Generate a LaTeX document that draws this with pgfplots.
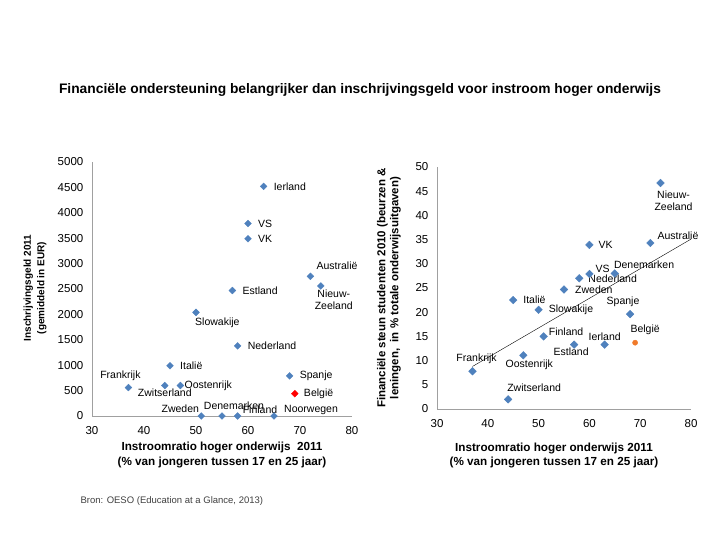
\documentclass[border=0pt]{standalone}
\usepackage{pgfplots}
\pgfplotsset{compat=1.18}
\usepackage{fontspec}
\setmainfont{Liberation Sans}
\definecolor{xblue}{HTML}{4F81BD}
\definecolor{xred}{HTML}{FF0000}
\definecolor{xorange}{HTML}{F07A2A}
\definecolor{axgray}{HTML}{A0A0A0}
\tikzset{lbl/.style={font=\fontsize{10.5}{12}\selectfont,inner sep=0pt}}
\pgfplotsset{
  common/.style={
    scale only axis,
    axis lines=left,
    axis line style={axgray,-},
    tick style={draw=none},
    xmin=30,xmax=80,xtick={30,40,...,80},
    /pgf/number format/assume math mode=true,
    /pgf/number format/set thousands separator={},
    ticklabel style={font=\fontsize{11.5}{12}\selectfont},
    xticklabel style={yshift=-5pt},
    yticklabel style={xshift=-3pt},
    clip=false,
  },
}
\begin{document}
\begin{tikzpicture}
\path[use as bounding box] (0,0) rectangle (720pt,-540pt);
\node[font=\bfseries\fontsize{13.8}{16}\selectfont] at (360pt,-90pt) {Financiële ondersteuning belangrijker dan inschrijvingsgeld voor instroom hoger onderwijs};
% ---------- left ----------
\begin{axis}[common,
  at={(92pt,-416pt)},anchor=south west,
  width=260pt,height=254pt,
  ymin=0,ymax=5000,ytick={0,500,...,5000},
]
\addplot[only marks,mark=square*,mark options={xblue,rotate=45},mark size=2.4pt] coordinates {
(63,4520) (60,3790) (60,3490) (72,2750) (74,2560) (57,2470) (50,2040)
(58,1380) (45,990) (68,790) (37,560) (44,600) (47,600)
(51,0) (55,0) (58,0) (65,0)
};
\addplot[only marks,mark=square*,mark options={xred,rotate=45},mark size=2.4pt] coordinates {(69,440)};
\node[lbl,anchor=west,xshift=10pt] at (axis cs:63,4520) {Ierland};
\node[lbl,anchor=west,xshift=10pt] at (axis cs:60,3790) {VS};
\node[lbl,anchor=west,xshift=10pt] at (axis cs:60,3490) {VK};
\node[lbl,anchor=west,xshift=6pt,yshift=11pt] at (axis cs:72,2750) {Australië};
\node[lbl,anchor=north,align=center,xshift=13pt,yshift=-4pt] at (axis cs:74,2560) {Nieuw-\\Zeeland};
\node[lbl,anchor=west,xshift=10pt] at (axis cs:57,2470) {Estland};
\node[lbl,anchor=north west,xshift=-1pt,yshift=-5pt] at (axis cs:50,2040) {Slowakije};
\node[lbl,anchor=west,xshift=10pt] at (axis cs:58,1380) {Nederland};
\node[lbl,anchor=west,xshift=10pt] at (axis cs:45,990) {Italië};
\node[lbl,anchor=west,xshift=10pt] at (axis cs:68,790) {Spanje};
\node[lbl,anchor=south,xshift=-8pt,yshift=7pt] at (axis cs:37,560) {Frankrijk};
\node[lbl,anchor=north,yshift=-3pt] at (axis cs:44,600) {Zwitserland};
\node[lbl,anchor=west,xshift=4pt] at (axis cs:47,600) {Oostenrijk};
\node[lbl,anchor=west,xshift=9pt] at (axis cs:69,440) {België};
\node[lbl,anchor=east,xshift=-2pt,yshift=7pt] at (axis cs:51,0) {Zweden};
\node[lbl,anchor=south,xshift=12pt,yshift=6pt] at (axis cs:55,0) {Denemarken};
\node[lbl,anchor=west,xshift=5pt,yshift=6pt] at (axis cs:58,0) {Finland};
\node[lbl,anchor=west,xshift=10pt,yshift=6pt] at (axis cs:65,0) {Noorwegen};
\end{axis}
\node[font=\bfseries\fontsize{11.7}{15}\selectfont,align=center] at (222pt,-455pt) {Instroomratio hoger onderwijs\ \ 2011\\(\% van jongeren tussen 17 en 25 jaar)};
\node[font=\bfseries\fontsize{10}{13.5}\selectfont,align=center,rotate=90] at (35pt,-288pt) {Inschrijvingsgeld 2011\\(gemiddeld in EUR)};
% ---------- right ----------
\begin{axis}[common,
  at={(437pt,-409pt)},anchor=south west,
  width=254pt,height=242pt,
  ymin=0,ymax=50,ytick={0,5,...,50},
]
\addplot[black,thin] coordinates {(37,8.8) (80,35.1)};
\addplot[only marks,mark=square*,mark options={xblue,rotate=45},mark size=2.7pt] coordinates {
(74,46.7) (72,34.3) (60,33.9) (65,28.0) (60,27.9) (58,27.0) (55,24.7)
(45,22.5) (50,20.5) (68,19.6) (51,15.0) (57,13.3) (63,13.3)
(47,11.1) (37,7.8) (44,2.0)
};
\addplot[only marks,mark=*,mark options={xorange},mark size=2.6pt] coordinates {(69,13.7)};
\node[lbl,anchor=north,align=center,xshift=13pt,yshift=-8pt] at (axis cs:74,46.7) {Nieuw-\\Zeeland};
\node[lbl,anchor=west,xshift=7pt,yshift=7pt] at (axis cs:72,34.3) {Australië};
\node[lbl,anchor=west,xshift=9pt] at (axis cs:60,33.9) {VK};
\node[lbl,anchor=south west,xshift=-1pt,yshift=5pt] at (axis cs:65,28.0) {Denemarken};
\node[lbl,anchor=west,xshift=6pt,yshift=5pt] at (axis cs:60,27.9) {VS};
\node[lbl,anchor=west,xshift=9pt] at (axis cs:58,27.0) {Nederland};
\node[lbl,anchor=west,xshift=11pt] at (axis cs:55,24.7) {Zweden};
\node[lbl,anchor=west,xshift=10pt] at (axis cs:45,22.5) {Italië};
\node[lbl,anchor=west,xshift=10pt] at (axis cs:50,20.5) {Slowakije};
\node[lbl,anchor=south,xshift=-7pt,yshift=7pt] at (axis cs:68,19.6) {Spanje};
\node[lbl,anchor=west,xshift=5pt,yshift=5pt] at (axis cs:51,15.0) {Finland};
\node[lbl,anchor=south,xshift=10pt,yshift=8pt] at (axis cs:69,13.7) {België};
\node[lbl,anchor=north,xshift=-3pt,yshift=-3pt] at (axis cs:57,13.3) {Estland};
\node[lbl,anchor=south,yshift=4pt] at (axis cs:63,13.3) {Ierland};
\node[lbl,anchor=north,xshift=6pt,yshift=-4pt] at (axis cs:47,11.1) {Oostenrijk};
\node[lbl,anchor=south,xshift=4pt,yshift=7pt] at (axis cs:37,7.8) {Frankrijk};
\node[lbl,anchor=south west,xshift=-1pt,yshift=8pt] at (axis cs:44,2.0) {Zwitserland};
\end{axis}
\node[font=\bfseries\fontsize{11.7}{14}\selectfont,align=center] at (554pt,-455pt) {Instroomratio hoger onderwijs 2011\\(\% van jongeren tussen 17 en 25 jaar)};
\node[font=\bfseries\fontsize{11.5}{13}\selectfont,align=center,rotate=90] at (389pt,-288pt) {Financiële steun studenten 2010 (beurzen \&\\leningen,\ \ in \% totale onderwijsuitgaven)};
% source
\node[anchor=west,font=\fontsize{9.5}{11}\selectfont,text=black!75] at (77pt,-501pt) {Bron: OESO (Education at a Glance, 2013)};
\end{tikzpicture}
\end{document}
